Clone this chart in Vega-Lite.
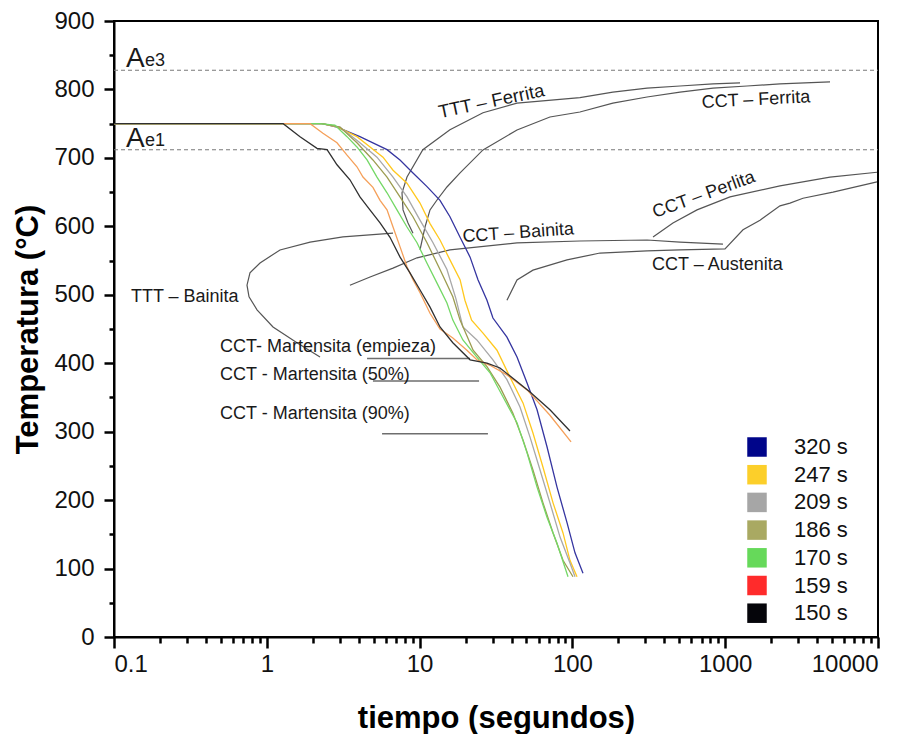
{
  "$schema": "https://vega.github.io/schema/vega-lite/v6.json",
  "width": 764,
  "height": 616,
  "autosize": "none",
  "padding": {"left": 114, "top": 21, "right": 40, "bottom": 97},
  "config": {"view": {"stroke": "#000", "strokeWidth": 2}},
  "datasets": {
    "cooling": [
      {"s": "320 s", "t": 0.1, "T": 750}, {"s": "320 s", "t": 2.3, "T": 750}, {"s": "320 s", "t": 2.88, "T": 745}, {"s": "320 s", "t": 4.07, "T": 731}, {"s": "320 s", "t": 4.95, "T": 722}, {"s": "320 s", "t": 6.12, "T": 712}, {"s": "320 s", "t": 7.44, "T": 697}, {"s": "320 s", "t": 9.05, "T": 678}, {"s": "320 s", "t": 11.18, "T": 658}, {"s": "320 s", "t": 13.6, "T": 638}, {"s": "320 s", "t": 15.8, "T": 614}, {"s": "320 s", "t": 18.4, "T": 584}, {"s": "320 s", "t": 21.4, "T": 555}, {"s": "320 s", "t": 24.1, "T": 522}, {"s": "320 s", "t": 27.6, "T": 492}, {"s": "320 s", "t": 30.2, "T": 466}, {"s": "320 s", "t": 37.3, "T": 438}, {"s": "320 s", "t": 43.4, "T": 409}, {"s": "320 s", "t": 50.5, "T": 371}, {"s": "320 s", "t": 58.7, "T": 332}, {"s": "320 s", "t": 68.2, "T": 278}, {"s": "320 s", "t": 79.3, "T": 219}, {"s": "320 s", "t": 92.2, "T": 167}, {"s": "320 s", "t": 104, "T": 123}, {"s": "320 s", "t": 117.3, "T": 93},
      {"s": "247 s", "t": 0.1, "T": 750}, {"s": "247 s", "t": 2.3, "T": 750}, {"s": "247 s", "t": 2.92, "T": 745}, {"s": "247 s", "t": 3.89, "T": 731}, {"s": "247 s", "t": 4.74, "T": 716}, {"s": "247 s", "t": 5.76, "T": 701}, {"s": "247 s", "t": 6.7, "T": 682}, {"s": "247 s", "t": 8.27, "T": 663}, {"s": "247 s", "t": 10.06, "T": 634}, {"s": "247 s", "t": 11.7, "T": 604}, {"s": "247 s", "t": 13.6, "T": 580}, {"s": "247 s", "t": 15.8, "T": 551}, {"s": "247 s", "t": 18.4, "T": 522}, {"s": "247 s", "t": 19.8, "T": 492}, {"s": "247 s", "t": 21.9, "T": 463}, {"s": "247 s", "t": 26.0, "T": 444}, {"s": "247 s", "t": 32.1, "T": 419}, {"s": "247 s", "t": 39.0, "T": 380}, {"s": "247 s", "t": 47.5, "T": 342}, {"s": "247 s", "t": 55.2, "T": 298}, {"s": "247 s", "t": 64.2, "T": 248}, {"s": "247 s", "t": 74.7, "T": 196}, {"s": "247 s", "t": 86.8, "T": 152}, {"s": "247 s", "t": 96.4, "T": 112}, {"s": "247 s", "t": 107.2, "T": 88},
      {"s": "209 s", "t": 0.1, "T": 750}, {"s": "209 s", "t": 2.3, "T": 750}, {"s": "209 s", "t": 3.01, "T": 745}, {"s": "209 s", "t": 4.07, "T": 722}, {"s": "209 s", "t": 5.26, "T": 701}, {"s": "209 s", "t": 6.7, "T": 672}, {"s": "209 s", "t": 8.27, "T": 643}, {"s": "209 s", "t": 10.06, "T": 609}, {"s": "209 s", "t": 12.24, "T": 576}, {"s": "209 s", "t": 15.1, "T": 537}, {"s": "209 s", "t": 17.3, "T": 494}, {"s": "209 s", "t": 19.2, "T": 453}, {"s": "209 s", "t": 23.7, "T": 434}, {"s": "209 s", "t": 30.2, "T": 405}, {"s": "209 s", "t": 37.3, "T": 376}, {"s": "209 s", "t": 45.4, "T": 336}, {"s": "209 s", "t": 52.8, "T": 292}, {"s": "209 s", "t": 61.4, "T": 244}, {"s": "209 s", "t": 71.3, "T": 196}, {"s": "209 s", "t": 83.0, "T": 146}, {"s": "209 s", "t": 96.4, "T": 108}, {"s": "209 s", "t": 104, "T": 88},
      {"s": "186 s", "t": 0.1, "T": 750}, {"s": "186 s", "t": 2.3, "T": 750}, {"s": "186 s", "t": 3.01, "T": 745}, {"s": "186 s", "t": 3.89, "T": 722}, {"s": "186 s", "t": 4.95, "T": 697}, {"s": "186 s", "t": 6.12, "T": 672}, {"s": "186 s", "t": 7.44, "T": 643}, {"s": "186 s", "t": 9.05, "T": 614}, {"s": "186 s", "t": 11.18, "T": 576}, {"s": "186 s", "t": 13.6, "T": 537}, {"s": "186 s", "t": 16.5, "T": 497}, {"s": "186 s", "t": 18.4, "T": 463}, {"s": "186 s", "t": 22.4, "T": 419}, {"s": "186 s", "t": 27.6, "T": 395}, {"s": "186 s", "t": 33.6, "T": 365}, {"s": "186 s", "t": 40.8, "T": 327}, {"s": "186 s", "t": 47.5, "T": 288}, {"s": "186 s", "t": 55.2, "T": 244}, {"s": "186 s", "t": 64.2, "T": 196}, {"s": "186 s", "t": 74.7, "T": 152}, {"s": "186 s", "t": 86.8, "T": 112}, {"s": "186 s", "t": 100.9, "T": 88},
      {"s": "170 s", "t": 0.1, "T": 750}, {"s": "170 s", "t": 2.2, "T": 750}, {"s": "170 s", "t": 2.79, "T": 748}, {"s": "170 s", "t": 3.35, "T": 731}, {"s": "170 s", "t": 3.89, "T": 716}, {"s": "170 s", "t": 4.53, "T": 697}, {"s": "170 s", "t": 5.26, "T": 672}, {"s": "170 s", "t": 6.12, "T": 649}, {"s": "170 s", "t": 7.11, "T": 624}, {"s": "170 s", "t": 8.27, "T": 599}, {"s": "170 s", "t": 9.62, "T": 576}, {"s": "170 s", "t": 11.18, "T": 546}, {"s": "170 s", "t": 13.0, "T": 517}, {"s": "170 s", "t": 15.1, "T": 488}, {"s": "170 s", "t": 16.5, "T": 463}, {"s": "170 s", "t": 19.2, "T": 434}, {"s": "170 s", "t": 23.7, "T": 409}, {"s": "170 s", "t": 28.9, "T": 386}, {"s": "170 s", "t": 35.1, "T": 351}, {"s": "170 s", "t": 43.4, "T": 313}, {"s": "170 s", "t": 50.5, "T": 269}, {"s": "170 s", "t": 58.7, "T": 219}, {"s": "170 s", "t": 68.2, "T": 175}, {"s": "170 s", "t": 79.3, "T": 137}, {"s": "170 s", "t": 93.6, "T": 88},
      {"s": "159 s", "t": 0.1, "T": 750}, {"s": "159 s", "t": 1.92, "T": 750}, {"s": "159 s", "t": 2.33, "T": 736}, {"s": "159 s", "t": 2.88, "T": 722}, {"s": "159 s", "t": 3.35, "T": 704}, {"s": "159 s", "t": 3.89, "T": 687}, {"s": "159 s", "t": 4.26, "T": 672}, {"s": "159 s", "t": 4.95, "T": 657}, {"s": "159 s", "t": 5.51, "T": 638}, {"s": "159 s", "t": 6.12, "T": 624}, {"s": "159 s", "t": 6.7, "T": 599}, {"s": "159 s", "t": 7.45, "T": 570}, {"s": "159 s", "t": 8.27, "T": 541}, {"s": "159 s", "t": 9.05, "T": 522}, {"s": "159 s", "t": 10.07, "T": 503}, {"s": "159 s", "t": 11.7, "T": 473}, {"s": "159 s", "t": 13.6, "T": 450}, {"s": "159 s", "t": 16.5, "T": 437}, {"s": "159 s", "t": 20.4, "T": 419}, {"s": "159 s", "t": 23.7, "T": 405}, {"s": "159 s", "t": 28.9, "T": 397}, {"s": "159 s", "t": 37.3, "T": 383}, {"s": "159 s", "t": 50.5, "T": 361}, {"s": "159 s", "t": 71.3, "T": 324}, {"s": "159 s", "t": 98, "T": 285},
      {"s": "150 s", "t": 0.1, "T": 750}, {"s": "150 s", "t": 1.28, "T": 750}, {"s": "150 s", "t": 1.65, "T": 731}, {"s": "150 s", "t": 2.13, "T": 714}, {"s": "150 s", "t": 2.48, "T": 712}, {"s": "150 s", "t": 2.88, "T": 690}, {"s": "150 s", "t": 3.5, "T": 668}, {"s": "150 s", "t": 4.07, "T": 643}, {"s": "150 s", "t": 4.73, "T": 624}, {"s": "150 s", "t": 5.51, "T": 605}, {"s": "150 s", "t": 6.4, "T": 584}, {"s": "150 s", "t": 7.45, "T": 555}, {"s": "150 s", "t": 8.65, "T": 532}, {"s": "150 s", "t": 10.07, "T": 507}, {"s": "150 s", "t": 11.7, "T": 482}, {"s": "150 s", "t": 13.6, "T": 453}, {"s": "150 s", "t": 16.5, "T": 430}, {"s": "150 s", "t": 21.4, "T": 405}, {"s": "150 s", "t": 27.6, "T": 400}, {"s": "150 s", "t": 33.6, "T": 393}, {"s": "150 s", "t": 40.8, "T": 378}, {"s": "150 s", "t": 52.8, "T": 358}, {"s": "150 s", "t": 71.3, "T": 332}, {"s": "150 s", "t": 96.4, "T": 301}
    ],
    "bounds": [
      {"name": "TTT Ferrita", "o": 1, "t": 9.05, "T": 590}, {"name": "TTT Ferrita", "o": 2, "t": 8.4, "T": 605}, {"name": "TTT Ferrita", "o": 3, "t": 7.79, "T": 624}, {"name": "TTT Ferrita", "o": 4, "t": 7.67, "T": 649}, {"name": "TTT Ferrita", "o": 5, "t": 8.27, "T": 672}, {"name": "TTT Ferrita", "o": 6, "t": 10.5, "T": 712}, {"name": "TTT Ferrita", "o": 7, "t": 15.8, "T": 741}, {"name": "TTT Ferrita", "o": 8, "t": 26.0, "T": 766}, {"name": "TTT Ferrita", "o": 9, "t": 43.4, "T": 780}, {"name": "TTT Ferrita", "o": 10, "t": 112, "T": 788}, {"name": "TTT Ferrita", "o": 11, "t": 184, "T": 796}, {"name": "TTT Ferrita", "o": 12, "t": 308, "T": 802}, {"name": "TTT Ferrita", "o": 13, "t": 506, "T": 805}, {"name": "TTT Ferrita", "o": 14, "t": 832, "T": 808}, {"name": "TTT Ferrita", "o": 15, "t": 1250, "T": 809.5},
      {"name": "CCT Ferrita", "o": 1, "t": 10.06, "T": 565.5}, {"name": "CCT Ferrita", "o": 2, "t": 10.85, "T": 599}, {"name": "CCT Ferrita", "o": 3, "t": 11.7, "T": 624}, {"name": "CCT Ferrita", "o": 4, "t": 13.0, "T": 638.5}, {"name": "CCT Ferrita", "o": 5, "t": 15.1, "T": 657.5}, {"name": "CCT Ferrita", "o": 6, "t": 18.4, "T": 678}, {"name": "CCT Ferrita", "o": 7, "t": 26.0, "T": 711.6}, {"name": "CCT Ferrita", "o": 8, "t": 43.4, "T": 740.8}, {"name": "CCT Ferrita", "o": 9, "t": 71.3, "T": 759.8}, {"name": "CCT Ferrita", "o": 10, "t": 112, "T": 767}, {"name": "CCT Ferrita", "o": 11, "t": 184, "T": 780}, {"name": "CCT Ferrita", "o": 12, "t": 308, "T": 789}, {"name": "CCT Ferrita", "o": 13, "t": 506, "T": 796}, {"name": "CCT Ferrita", "o": 14, "t": 832, "T": 802}, {"name": "CCT Ferrita", "o": 15, "t": 1389, "T": 805}, {"name": "CCT Ferrita", "o": 16, "t": 2283, "T": 808}, {"name": "CCT Ferrita", "o": 17, "t": 4853, "T": 811},
      {"name": "TTT Bainita", "o": 1, "t": 6.7, "T": 590}, {"name": "TTT Bainita", "o": 2, "t": 3.15, "T": 584.5}, {"name": "TTT Bainita", "o": 3, "t": 1.92, "T": 577}, {"name": "TTT Bainita", "o": 4, "t": 1.22, "T": 565.5}, {"name": "TTT Bainita", "o": 5, "t": 0.903, "T": 546.5}, {"name": "TTT Bainita", "o": 6, "t": 0.776, "T": 532}, {"name": "TTT Bainita", "o": 7, "t": 0.742, "T": 514}, {"name": "TTT Bainita", "o": 8, "t": 0.765, "T": 497}, {"name": "TTT Bainita", "o": 9, "t": 0.863, "T": 478}, {"name": "TTT Bainita", "o": 10, "t": 1.098, "T": 453}, {"name": "TTT Bainita", "o": 11, "t": 1.576, "T": 430}, {"name": "TTT Bainita", "o": 12, "t": 2.23, "T": 409},
      {"name": "CCT Bainita", "o": 1, "t": 3.5, "T": 514}, {"name": "CCT Bainita", "o": 2, "t": 4.74, "T": 526}, {"name": "CCT Bainita", "o": 3, "t": 6.7, "T": 539}, {"name": "CCT Bainita", "o": 4, "t": 9.62, "T": 554}, {"name": "CCT Bainita", "o": 5, "t": 15.8, "T": 565.5}, {"name": "CCT Bainita", "o": 6, "t": 43.4, "T": 575.7}, {"name": "CCT Bainita", "o": 7, "t": 112, "T": 578.6}, {"name": "CCT Bainita", "o": 8, "t": 308, "T": 580}, {"name": "CCT Bainita", "o": 9, "t": 506, "T": 577}, {"name": "CCT Bainita", "o": 10, "t": 967, "T": 574},
      {"name": "CCT Austenita", "o": 1, "t": 37.3, "T": 492}, {"name": "CCT Austenita", "o": 2, "t": 43.4, "T": 521.6}, {"name": "CCT Austenita", "o": 3, "t": 55.2, "T": 536}, {"name": "CCT Austenita", "o": 4, "t": 92.2, "T": 551}, {"name": "CCT Austenita", "o": 5, "t": 151.6, "T": 561}, {"name": "CCT Austenita", "o": 6, "t": 308, "T": 564}, {"name": "CCT Austenita", "o": 7, "t": 506, "T": 565.5}, {"name": "CCT Austenita", "o": 8, "t": 997, "T": 567}, {"name": "CCT Austenita", "o": 9, "t": 1308, "T": 595}, {"name": "CCT Austenita", "o": 10, "t": 1690, "T": 609}, {"name": "CCT Austenita", "o": 11, "t": 2283, "T": 630}, {"name": "CCT Austenita", "o": 12, "t": 2655, "T": 634}, {"name": "CCT Austenita", "o": 13, "t": 3228, "T": 641}, {"name": "CCT Austenita", "o": 14, "t": 5076, "T": 650}, {"name": "CCT Austenita", "o": 15, "t": 9851, "T": 665},
      {"name": "CCT Perlita", "o": 1, "t": 337, "T": 584.5}, {"name": "CCT Perlita", "o": 2, "t": 455, "T": 605}, {"name": "CCT Perlita", "o": 3, "t": 654, "T": 624}, {"name": "CCT Perlita", "o": 4, "t": 1075, "T": 643}, {"name": "CCT Perlita", "o": 5, "t": 2283, "T": 659}, {"name": "CCT Perlita", "o": 6, "t": 4853, "T": 672}, {"name": "CCT Perlita", "o": 7, "t": 9851, "T": 679}
    ],
    "mart": [
      {"name": "empieza", "t": 4.53, "T": 407}, {"name": "empieza", "t": 21.4, "T": 407},
      {"name": "50%", "t": 4.95, "T": 374}, {"name": "50%", "t": 24.5, "T": 374},
      {"name": "90%", "t": 5.68, "T": 297}, {"name": "90%", "t": 28.0, "T": 297}
    ],
    "ae": [
      {"name": "Ae3", "t": 0.1, "T": 828}, {"name": "Ae3", "t": 10000, "T": 828},
      {"name": "Ae1", "t": 0.1, "T": 712}, {"name": "Ae1", "t": 10000, "T": 712}
    ]
  },
  "resolve": {"axis": {"x": "independent", "y": "independent"}},
  "layer": [
    {
      "encoding": {
        "x": {
          "field": "t", "type": "quantitative",
          "scale": {"type": "log", "domain": [0.1, 10000]},
          "title": "tiempo (segundos)",
          "axis": {
            "orient": "bottom", "grid": false,
            "values": [0.1, 1, 10, 100, 1000, 10000],
            "labelExpr": "toString(datum.value)",
            "tickColor": "#000", "tickWidth": 2.5, "tickSize": 11,
            "domainColor": "#000", "domainWidth": 2,
            "labelFont": "Liberation Sans", "labelFontSize": 24, "labelColor": "#111", "labelPadding": 4,
            "titleFont": "Liberation Sans", "titleFontSize": 31, "titleFontWeight": "bold", "titleColor": "#000",
            "titleY": 90,
            "titleBaseline": "alphabetic"
          }
        },
        "y": {
          "field": "T", "type": "quantitative",
          "scale": {"domain": [0, 900]},
          "title": "Temperatura (°C)",
          "axis": {
            "orient": "left", "grid": false,
            "values": [0, 100, 200, 300, 400, 500, 600, 700, 800, 900],
            "tickColor": "#000", "tickWidth": 2.5, "tickSize": 10,
            "domainColor": "#000", "domainWidth": 2,
            "labelFont": "Liberation Sans", "labelFontSize": 24, "labelColor": "#111", "labelPadding": 10,
            "titleFont": "Liberation Sans", "titleFontSize": 31, "titleFontWeight": "bold", "titleColor": "#000",
            "titleX": -77,
            "titleY": 308,
            "titleAngle": -90,
            "titleAlign": "center",
            "titleBaseline": "alphabetic"
          }
        }
      },
      "layer": [
        {
          "data": {"name": "ae"},
          "mark": {"type": "line", "color": "#7a7a7a", "strokeWidth": 1.1, "strokeDash": [4, 3]},
          "encoding": {"detail": {"field": "name"}}
        },
        {
          "data": {"name": "bounds"},
          "mark": {"type": "line", "color": "#555555", "strokeWidth": 1.2},
          "encoding": {"detail": {"field": "name"}, "order": {"field": "o"}}
        },
        {
          "data": {"name": "mart"},
          "mark": {"type": "line", "color": "#6e6e6e", "strokeWidth": 1.4},
          "encoding": {"detail": {"field": "name"}}
        },
        {
          "data": {"name": "cooling"},
          "mark": {"type": "line", "strokeWidth": 1.3},
          "encoding": {
            "color": {
              "field": "s", "type": "nominal",
              "scale": {"domain": ["320 s", "247 s", "209 s", "186 s", "170 s", "159 s", "150 s"], "range": ["#3535a0", "#ffc81e", "#a8a8a8", "#9c9c50", "#74d866", "#f5a05a", "#303030"]},
              "legend": {
                "title": null, "orient": "none", "legendX": 632, "legendY": 415, "padding": 0,
                "symbolType": "square", "symbolSize": 380, "symbolStrokeWidth": 0,
                "labelFontSize": 22, "labelFont": "Liberation Sans", "labelColor": "#111", "labelOffset": 26, "rowPadding": 5.7,
                "encode": {"symbols": {"update": {
                  "fill": {"signal": "datum.value === '320 s' ? '#00058a' : datum.value === '247 s' ? '#fccf2a' : datum.value === '209 s' ? '#a6a6a6' : datum.value === '186 s' ? '#a9a962' : datum.value === '170 s' ? '#66d95a' : datum.value === '159 s' ? '#ff2b2b' : '#05050a'"},
                  "stroke": {"value": "transparent"},
                  "opacity": {"value": 1}
                }}}
              }
            }
          }
        },
        {
          "data": {"values": [{"label": "TTT – Ferrita", "t": 13.6, "T": 758}]},
          "mark": {"type": "text", "align": "left", "baseline": "alphabetic", "angle": -12, "fontSize": 18.5, "color": "#1a1a1a", "font": "Liberation Sans"},
          "encoding": {"text": {"field": "label"}}
        },
        {
          "data": {"values": [{"label": "CCT – Ferrita", "t": 705, "T": 773}]},
          "mark": {"type": "text", "align": "left", "baseline": "alphabetic", "angle": -3, "fontSize": 18, "color": "#1a1a1a", "font": "Liberation Sans"},
          "encoding": {"text": {"field": "label"}}
        },
        {
          "data": {"values": [{"label": "CCT – Perlita", "t": 347, "T": 612}]},
          "mark": {"type": "text", "align": "left", "baseline": "alphabetic", "angle": -20, "fontSize": 18, "color": "#1a1a1a", "font": "Liberation Sans"},
          "encoding": {"text": {"field": "label"}}
        },
        {
          "data": {"values": [{"label": "CCT – Bainita", "t": 19.2, "T": 577}]},
          "mark": {"type": "text", "align": "left", "baseline": "alphabetic", "angle": -4, "fontSize": 18, "color": "#1a1a1a", "font": "Liberation Sans"},
          "encoding": {"text": {"field": "label"}}
        },
        {
          "data": {"values": [
            {"label": "CCT – Austenita", "t": 332, "T": 536},
            {"label": "TTT  – Bainita", "t": 0.129, "T": 489.5},
            {"label": "CCT- Martensita (empieza)", "t": 0.494, "T": 416.4},
            {"label": "CCT - Martensita (50%)", "t": 0.494, "T": 375.5},
            {"label": "CCT - Martensita (90%)", "t": 0.494, "T": 318.5}
          ]},
          "mark": {"type": "text", "align": "left", "baseline": "alphabetic", "fontSize": 18, "color": "#1a1a1a", "font": "Liberation Sans"},
          "encoding": {"text": {"field": "label"}}
        },
        {
          "data": {"values": [{"label": "A", "t": 0.1198, "T": 833}, {"label": "A", "t": 0.1198, "T": 716}]},
          "mark": {"type": "text", "align": "left", "baseline": "alphabetic", "fontSize": 28, "color": "#1a1a1a", "font": "Liberation Sans"},
          "encoding": {"text": {"field": "label"}}
        },
        {
          "data": {"values": [{"label": "e3", "t": 0.1596, "T": 834}, {"label": "e1", "t": 0.1596, "T": 717}]},
          "mark": {"type": "text", "align": "left", "baseline": "alphabetic", "fontSize": 18, "color": "#1a1a1a", "font": "Liberation Sans"},
          "encoding": {"text": {"field": "label"}}
        }
      ]
    },
    {
      "data": {"name": "ae"},
      "mark": {"type": "line", "opacity": 0},
      "encoding": {
        "detail": {"field": "name"},
        "x": {
          "field": "t", "type": "quantitative",
          "scale": {"type": "log", "domain": [0.1, 10000]},
          "axis": {
            "orient": "bottom", "title": null, "labels": false, "domain": false, "grid": false,
            "tickColor": "#000", "tickWidth": 2.5, "tickSize": 6,
            "values": [0.2, 0.3, 0.4, 0.5, 0.6, 0.7, 0.8, 0.9, 2, 3, 4, 5, 6, 7, 8, 9, 20, 30, 40, 50, 60, 70, 80, 90, 200, 300, 400, 500, 600, 700, 800, 900, 2000, 3000, 4000, 5000, 6000, 7000, 8000, 9000]
          }
        },
        "y": {
          "field": "T", "type": "quantitative",
          "scale": {"domain": [0, 900]},
          "axis": {
            "orient": "left", "title": null, "labels": false, "domain": false, "grid": false,
            "tickColor": "#000", "tickWidth": 2.5, "tickSize": 5,
            "values": [50, 150, 250, 350, 450, 550, 650, 750, 850]
          }
        }
      }
    }
  ]
}
